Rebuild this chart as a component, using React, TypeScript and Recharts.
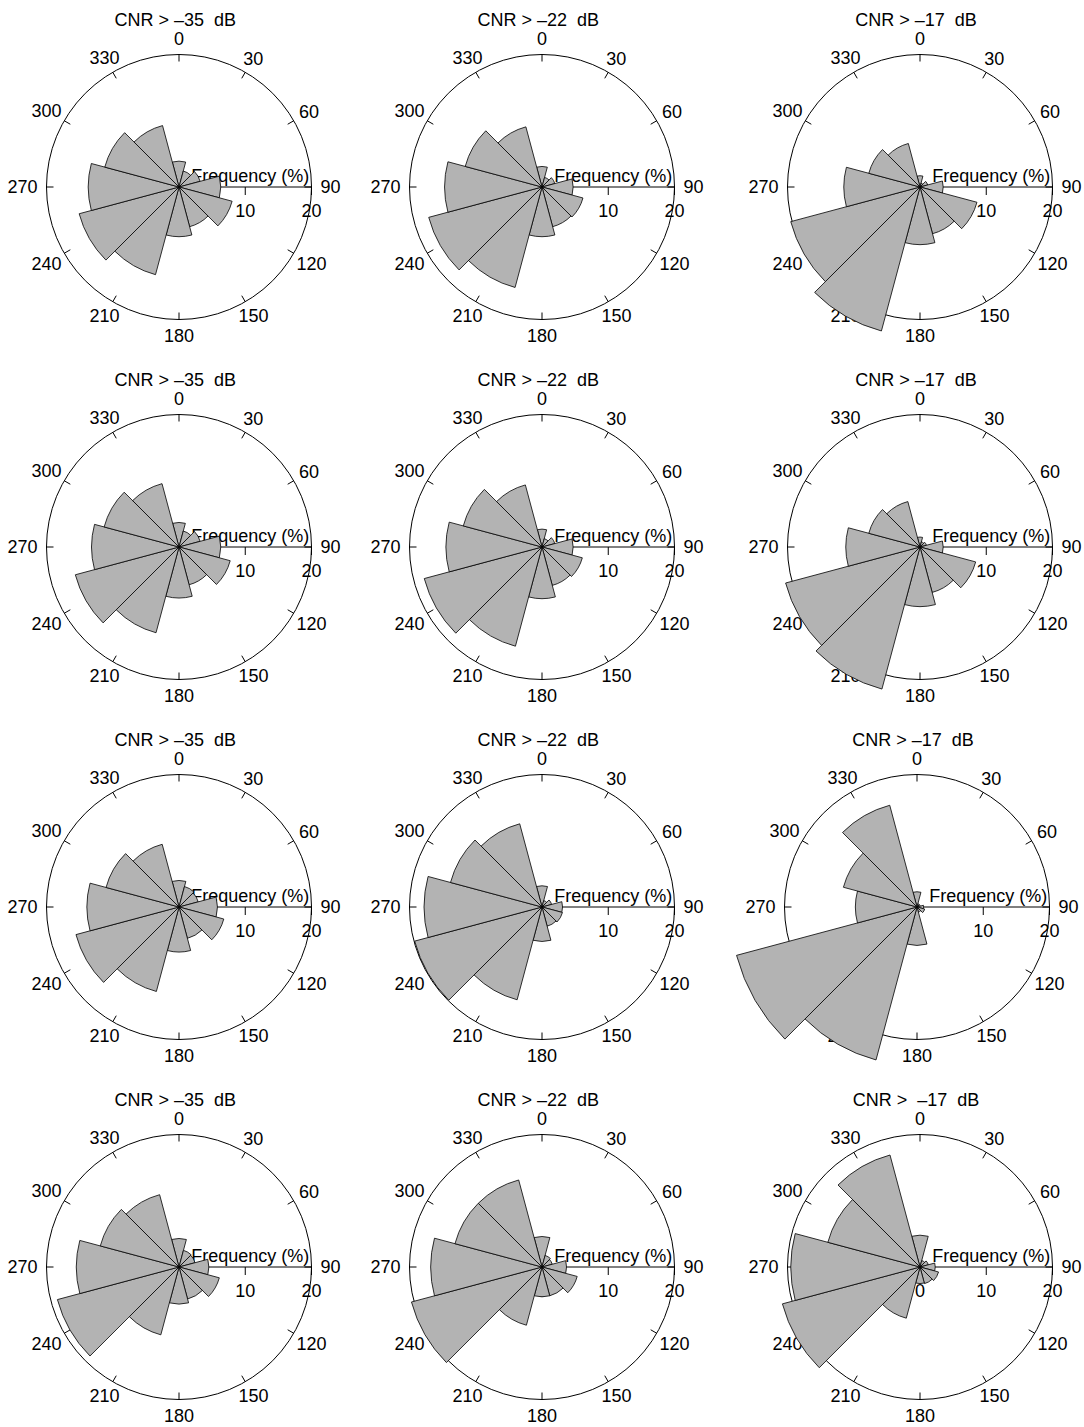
import React from "react";
import {
  RadialBarChart,
  RadialBar,
  PolarAngleAxis,
  PolarRadiusAxis,
} from "recharts";

// ─── Data (frequency % per 30° direction bin) ────────────────────────────────

const directions = ["0", "30", "60", "90", "120", "150", "180", "210", "240", "270", "300", "330"];
// ring ticks run clockwise from 30 round to 360 (= 0, north)
const degreeTicks = [30, 60, 90, 120, 150, 180, 210, 240, 270, 300, 330, 360];
const radialTicks = [0, 10, 20];

const panelTitles = [
  "CNR > \u201335  dB", "CNR > \u201322  dB", "CNR > \u201317  dB",
  "CNR > \u201335  dB", "CNR > \u201322  dB", "CNR > \u201317  dB",
  "CNR > \u201335  dB", "CNR > \u201322  dB", "CNR > \u201317  dB",
  "CNR > \u201335  dB", "CNR > \u201322  dB", "CNR >  \u201317  dB",
];

const row1Cnr35 = [3.9, 2.5, 3.3, 6.3, 8.3, 6.2, 7.5, 13.7, 15.6, 13.7, 11.6, 9.6];
const row1Cnr22 = [3.1, 1.5, 2.0, 4.7, 6.4, 6.2, 7.5, 15.7, 17.7, 14.7, 12.0, 9.4];
const row1Cnr17 = [1.7, 0.6, 1.2, 3.5, 8.9, 7.3, 8.7, 22.5, 20.2, 11.5, 8.0, 6.8];

const row2Cnr35 = [3.7, 2.5, 3.3, 6.3, 8.0, 5.9, 7.7, 13.4, 16.2, 13.2, 11.7, 9.9];
const row2Cnr22 = [2.7, 1.3, 2.0, 4.7, 6.3, 6.0, 7.8, 15.5, 18.4, 14.5, 12.3, 9.7];
const row2Cnr17 = [1.5, 0.8, 1.0, 3.5, 8.7, 7.1, 9.0, 22.2, 21.0, 11.2, 8.0, 7.1];

const row3Cnr35 = [4.0, 3.2, 3.0, 5.8, 7.0, 4.9, 6.8, 13.2, 16.1, 13.9, 11.4, 9.8];
const row3Cnr22 = [3.2, 1.0, 1.5, 3.1, 3.2, 3.0, 5.2, 14.5, 19.9, 17.8, 14.3, 13.0];
const row3Cnr17 = [2.3, 0.5, 0.5, 1.0, 1.2, 0.8, 5.8, 23.9, 28.2, 9.3, 11.5, 15.9];

const row4Cnr35 = [4.3, 2.6, 2.5, 4.5, 6.3, 5.0, 5.6, 10.6, 19.0, 15.5, 12.3, 11.3];
const row4Cnr22 = [4.6, 1.8, 1.6, 3.7, 5.5, 4.5, 4.5, 9.1, 20.4, 16.8, 13.6, 13.6];
const row4Cnr17 = [4.8, 1.0, 1.3, 2.3, 2.9, 2.6, 2.5, 8.0, 21.5, 19.5, 14.4, 17.5];

const panelSeries = [
  row1Cnr35, row1Cnr22, row1Cnr17,
  row2Cnr35, row2Cnr22, row2Cnr17,
  row3Cnr35, row3Cnr22, row3Cnr17,
  row4Cnr35, row4Cnr22, row4Cnr17,
];

// ─── Layout ──────────────────────────────────────────────────────────────────

const FONT = "'Liberation Sans', Arial, sans-serif";
const BOX = 400;
const HALF = BOX / 2;
const RADIUS = 132.5;
const COL_X = [179.3, 542.3, 920];
const ROW_Y = [187, 547, 907, 1267.3];

function panelCenter(i: number) {
  const col = i % 3;
  const row = Math.floor(i / 3);
  // third panel of row 3 sits a few px left in the original
  const x = i === 8 ? 917 : COL_X[col];
  return { x, y: ROW_Y[row] };
}

// ─── Tick renderers ──────────────────────────────────────────────────────────

function AngleTick(props: any) {
  const { x, y, payload } = props;
  const deg = Number(payload.value) % 360;
  const rad = (deg * Math.PI) / 180;
  const s = Math.sin(rad);
  const c = Math.cos(rad);
  const label = String(deg);
  const halfW = label.length * 5;
  const push = 23 + (halfW - 7) * Math.pow(Math.abs(s), 4);
  const tx = x + s * push;
  const ty = y - c * push;
  return (
    <text x={tx} y={ty + 6.4} textAnchor="middle" fontSize={18} fontFamily={FONT} fill="#000">
      {label}
    </text>
  );
}

function RadiusTick(props: any) {
  const { x, y, payload } = props;
  const v = Number(payload.value);
  return (
    <g>
      {v === 0 ? <circle cx={x} cy={y} r={1.8} fill="#000" /> : null}
      {v > 0 ? <line x1={x} y1={y} x2={x} y2={y + 8} stroke="#000" strokeWidth={1} /> : null}
      <text x={x} y={y + 30} textAnchor="middle" fontSize={18} fontFamily={FONT} fill="#000">
        {v}
      </text>
      {v === 10 ? (
        <text x={x + 5} y={y - 5} textAnchor="middle" fontSize={18} fontFamily={FONT} fill="#000">
          Frequency (%)
        </text>
      ) : null}
    </g>
  );
}

// ─── One rose ────────────────────────────────────────────────────────────────

function Rose({ index }: { index: number }) {
  const values = panelSeries[index];
  const data = directions.map((d, k) => ({
    dir: d,
    ring: Number(d) === 0 ? 360 : Number(d),
    v: values[k],
  }));
  const { x, y } = panelCenter(index);

  return (
    <div style={{ position: "absolute", left: x - HALF, top: y - HALF, width: BOX, height: BOX }}>
      <div
        style={{
          position: "absolute",
          left: HALF - 4 - 150,
          top: HALF - 176,
          width: 300,
          textAlign: "center",
          fontSize: 18,
          lineHeight: "18px",
          fontFamily: FONT,
          whiteSpace: "pre",
          color: "#000",
        }}
      >
        {panelTitles[index]}
      </div>
      <RadialBarChart
        width={BOX}
        height={BOX}
        data={data}
        layout="centric"
        cx={HALF}
        cy={HALF}
        innerRadius={0}
        outerRadius={RADIUS}
        startAngle={75}
        endAngle={-285}
        barCategoryGap={0}
        margin={{ top: 0, right: 0, bottom: 0, left: 0 }}
        style={{ position: "absolute", left: 0, top: 0 }}
      >
        <PolarAngleAxis
          angleAxisId="ring"
          dataKey="ring"
          type="number"
          domain={[15, 375]}
          ticks={degreeTicks}
          axisLineType="circle"
          orientation="inner"
          tickSize={7}
          stroke="#000"
          axisLine={{ stroke: "#000", strokeWidth: 1 }}
          tickLine={{ stroke: "#000", strokeWidth: 1 }}
          tick={AngleTick}
          zIndex={0}
        />
        <PolarAngleAxis
          dataKey="dir"
          type="category"
          axisLine={false}
          tickLine={false}
          tick={false}
          zIndex={0}
        />
        <PolarRadiusAxis
          angle={0}
          type="number"
          domain={[0, 20]}
          ticks={radialTicks}
          allowDataOverflow
          stroke="#000"
          axisLine={{ stroke: "#000", strokeWidth: 1 }}
          tick={RadiusTick}
          zIndex={0}
        />
        <RadialBar
          dataKey="v"
          fill="#b3b3b3"
          stroke="#000"
          strokeWidth={0.8}
          isAnimationActive={false}
          zIndex={1000}
        />
      </RadialBarChart>
    </div>
  );
}

export default function App() {
  return (
    <div
      style={{
        position: "absolute",
        left: 0,
        top: 0,
        width: 1084,
        height: 1427,
        background: "#fff",
        overflow: "hidden",
      }}
    >
      {panelSeries.map((_, i) => (
        <Rose key={i} index={i} />
      ))}
    </div>
  );
}
